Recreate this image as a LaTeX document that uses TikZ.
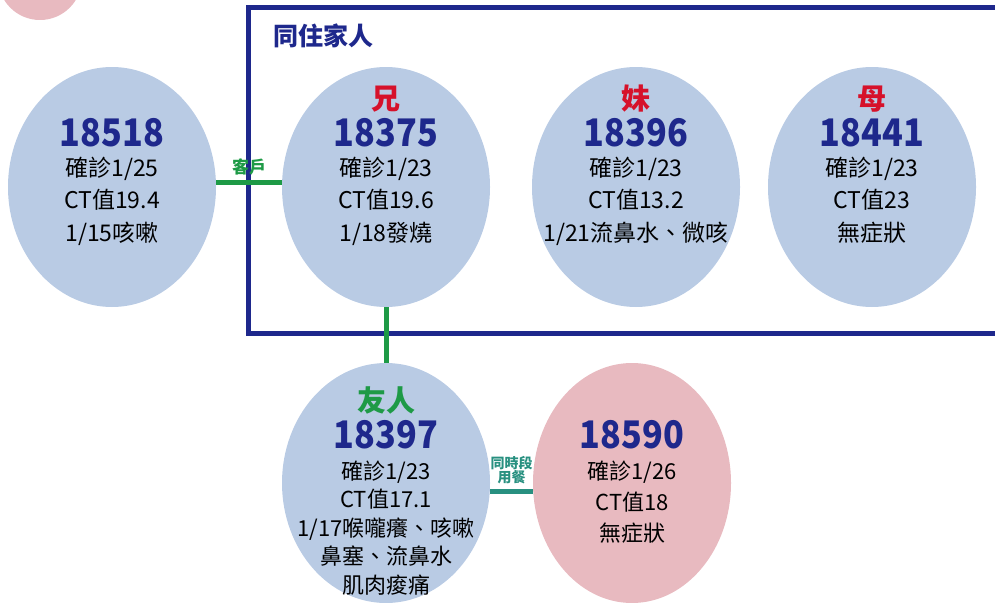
\documentclass[tikz,border=0pt]{standalone}
\usepackage{fontspec}
\setmainfont{Noto Sans CJK TC}
\newfontfamily\numfont{Noto Sans CJK TC}[FakeStretch=0.9]
\usepackage{tikz}
\usetikzlibrary{positioning, shapes.geometric}

\definecolor{caseblue}{RGB}{185,203,228}
\definecolor{casepink}{RGB}{232,186,192}
\definecolor{navy}{RGB}{30,40,140}
\definecolor{kinred}{RGB}{214,17,42}
\definecolor{linkgreen}{RGB}{30,154,70}
\definecolor{linkteal}{RGB}{40,144,128}

\begin{document}
\begin{tikzpicture}[x=1pt, y=-1pt,
  person/.style={ellipse, fill=caseblue, minimum width=208pt,
    minimum height=240pt, inner sep=0pt},
  num/.style={font=\numfont\fontsize{38}{40}\selectfont\bfseries, text=navy,
    inner sep=0pt},
  kin/.style={font=\fontsize{29}{30}\selectfont\bfseries, inner sep=0pt},
  info/.style={font=\fontsize{23}{32.5}\selectfont, align=center,
    inner sep=0pt},
  tag/.style={font=\fontsize{17}{18}\selectfont\bfseries, align=center,
    inner sep=0pt},
  link/.style={line width=5pt}
]
  \clip (0,0) rectangle (995,602);

  % Pink circle cut by the top edge
  \fill[casepink] (40,-22) circle (42);

  % Household frame
  \draw[navy, line width=5pt] (248,7.5) rectangle (1010,333);
  \node[font=\fontsize{25}{27}\selectfont\bfseries, text=navy,
    inner sep=0pt] (home) at (323,36) {同住家人};

  % Cases
  \node[person] (c18518) at (112,187) {};
  \node[person] (c18375) at (386,187) {};
  \node[person] (c18396) at (636,187) {};
  \node[person] (c18441) at (872,187) {};
  \node[person] (c18397) at (386,483) {};
  \node[person, fill=casepink, minimum width=198pt] (c18590) at (632,483) {};

  % Connections
  \draw[link, linkgreen] ([yshift=5pt]c18518.east) -- ([yshift=5pt]c18375.west)
    node[tag, text=linkgreen, midway, above=4pt] (ke) {客戶};
  \draw[link, linkgreen] (c18375.south) -- (c18397.north);
  \draw[link, linkteal] ([yshift=-8pt]c18397.east) -- ([yshift=-8pt]c18590.west)
    node[tag, text=linkteal, midway, above=5pt,
      font=\fontsize{14}{13.5}\selectfont\bfseries] (meal) {同時段\\用餐};

  % Numbers
  \foreach \c in {18518, 18375, 18396, 18441} {
    \node[num] (n\c) at ([yshift=54pt]c\c.center) {\c};
  }
  \foreach \c in {18397, 18590} {
    \node[num] (n\c) at ([yshift=48pt]c\c.center) {\c};
  }

  % Relations
  \node[kin, text=kinred, above=6pt of n18375] (k18375) {兄};
  \node[kin, text=kinred, above=6pt of n18396] (k18396) {妹};
  \node[kin, text=kinred, above=6pt of n18441] (k18441) {母};
  \node[kin, text=linkgreen, above=6pt of n18397] (k18397) {友人};

  % Details
  \node[info, below=9pt of n18518] (d18518) {確診1/25\\CT值19.4\\1/15咳嗽};
  \node[info, below=9pt of n18375] (d18375) {確診1/23\\CT值19.6\\1/18發燒};
  \node[info, below=9pt of n18396] (d18396) {確診1/23\\CT值13.2\\1/21流鼻水、微咳};
  \node[info, below=9pt of n18441] (d18441) {確診1/23\\CT值23\\無症狀};
  \node[info, below=11pt of n18397, font=\fontsize{22}{28.5}\selectfont]
    (d18397) {確診1/23\\CT值17.1\\1/17喉嚨癢、咳嗽\\鼻塞、流鼻水\\肌肉痠痛};
  \node[info, below=11pt of n18590, font=\fontsize{22}{31}\selectfont]
    (d18590) {確診1/26\\CT值18\\無症狀};
\end{tikzpicture}
\end{document}
